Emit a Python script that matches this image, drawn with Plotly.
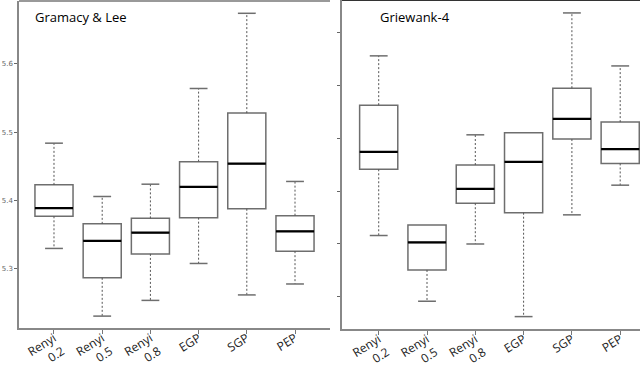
import plotly.graph_objects as go
from plotly.subplots import make_subplots

methods = ['Renyi<br>0.2', 'Renyi<br>0.5', 'Renyi<br>0.8', 'EGP', 'SGP', 'PEP']

# Gramacy & Lee
gl_lower = [5.330, 5.231, 5.254, 5.308, 5.262, 5.278]
gl_q1 = [5.377, 5.287, 5.322, 5.375, 5.388, 5.326]
gl_median = [5.389, 5.341, 5.353, 5.420, 5.454, 5.355]
gl_q3 = [5.423, 5.366, 5.374, 5.457, 5.528, 5.378]
gl_upper = [5.484, 5.406, 5.424, 5.564, 5.674, 5.428]

# Griewank-4 (axis values unlabeled in the source)
gw_lower = [1.16, -0.08, 1.00, -0.37, 1.55, 2.11]
gw_q1 = [2.41, 0.51, 1.77, 1.59, 2.98, 2.52]
gw_median = [2.74, 1.03, 2.04, 2.55, 3.36, 2.79]
gw_q3 = [3.62, 1.36, 2.49, 3.10, 3.94, 3.30]
gw_upper = [4.55, 1.36, 3.06, 3.10, 5.36, 4.36]

BOX_W = 0.79
CAP_W = 0.37
LINE = '#6e6e6e'

fig = make_subplots(rows=1, cols=2)


def add_panel(col, lower, q1, med, q3, upper):
    xs = list(range(len(methods)))
    fig.add_trace(go.Box(
        x=xs, q1=q1, median=med, q3=q3, lowerfence=q1, upperfence=q3,
        width=BOX_W, whiskerwidth=0, fillcolor='white',
        line=dict(color=LINE, width=1.5), showlegend=False, hoverinfo='skip'
    ), row=1, col=col)
    wx, wy, cx, cy, mx, my = [], [], [], [], [], []
    for i in xs:
        if upper[i] > q3[i]:
            wx += [i, i, None]
            wy += [q3[i], upper[i], None]
            cx += [i - CAP_W / 2, i + CAP_W / 2, None]
            cy += [upper[i], upper[i], None]
        if lower[i] < q1[i]:
            wx += [i, i, None]
            wy += [q1[i], lower[i], None]
            cx += [i - CAP_W / 2, i + CAP_W / 2, None]
            cy += [lower[i], lower[i], None]
        mx += [i - BOX_W / 2, i + BOX_W / 2, None]
        my += [med[i], med[i], None]
    fig.add_trace(go.Scatter(x=wx, y=wy, mode='lines', showlegend=False,
                             line=dict(color='#555555', width=1, dash='2px,2px')),
                  row=1, col=col)
    fig.add_trace(go.Scatter(x=cx, y=cy, mode='lines', showlegend=False,
                             line=dict(color=LINE, width=1.5)), row=1, col=col)
    fig.add_trace(go.Scatter(x=mx, y=my, mode='lines', showlegend=False,
                             line=dict(color='black', width=2.2)), row=1, col=col)


add_panel(1, gl_lower, gl_q1, gl_median, gl_q3, gl_upper)
add_panel(2, gw_lower, gw_q1, gw_median, gw_q3, gw_upper)

xcommon = dict(tickmode='array', tickvals=list(range(6)), ticktext=methods,
               tickangle=-32, ticks='outside', ticklen=4, tickcolor='#777',
               automargin=False, ticklabelstandoff=-7,
               showline=True, linecolor='#888', linewidth=1.5, showgrid=False,
               zeroline=False, tickfont=dict(family='Open Sans', size=12, color='#222'))
fig.update_xaxes(**xcommon)
fig.update_xaxes(domain=[19 / 640, 330 / 640], range=[-0.726, 5.726], row=1, col=1)
fig.update_xaxes(domain=[342 / 640, 1.0], range=[-0.76, 5.41], row=1, col=2)

ycommon = dict(showline=True, linecolor='#888', linewidth=1.5, showgrid=False,
               zeroline=False, ticks='outside', ticklen=3, tickcolor='#666',
               automargin=False)
fig.update_yaxes(**ycommon)
fig.update_yaxes(domain=[1 - 328 / 367, 1 - 1 / 367], range=[5.2136, 5.692],
                 tickvals=[5.3, 5.4, 5.5, 5.6], ticktext=['5.3', '5.4', '5.5', '5.6'],
                 tickfont=dict(family='DejaVu Sans', size=7, color='#666'),
                 row=1, col=1)
fig.update_yaxes(domain=[1 - 329 / 367, 1.0], range=[-0.604, 5.604],
                 tickvals=[0, 1, 2, 3, 4, 5], showticklabels=False, row=1, col=2)

# top frame lines
fig.add_shape(type='line', xref='x domain', yref='y domain', x0=0, x1=1, y0=1, y1=1,
              line=dict(color='#999', width=2))
fig.add_shape(type='line', xref='x2 domain', yref='y2 domain', x0=0, x1=1, y0=1, y1=1,
              line=dict(color='#333', width=2))

fig.add_annotation(text='Gramacy & Lee', xref='paper', yref='paper', x=33 / 640,
                   y=1 - 17 / 367, xanchor='left', yanchor='middle', showarrow=False,
                   font=dict(family='Open Sans', size=13, color='black'))
fig.add_annotation(text='Griewank-4', xref='paper', yref='paper', x=378 / 640,
                   y=1 - 17 / 367, xanchor='left', yanchor='middle', showarrow=False,
                   font=dict(family='Open Sans', size=13, color='black'))

fig.update_layout(width=640, height=367, margin=dict(l=0, r=0, t=0, b=0),
                  plot_bgcolor='white', paper_bgcolor='white', showlegend=False)

fig.write_html("out.html", config={'displayModeBar': False},
               post_script="document.body.style.margin='0';")
